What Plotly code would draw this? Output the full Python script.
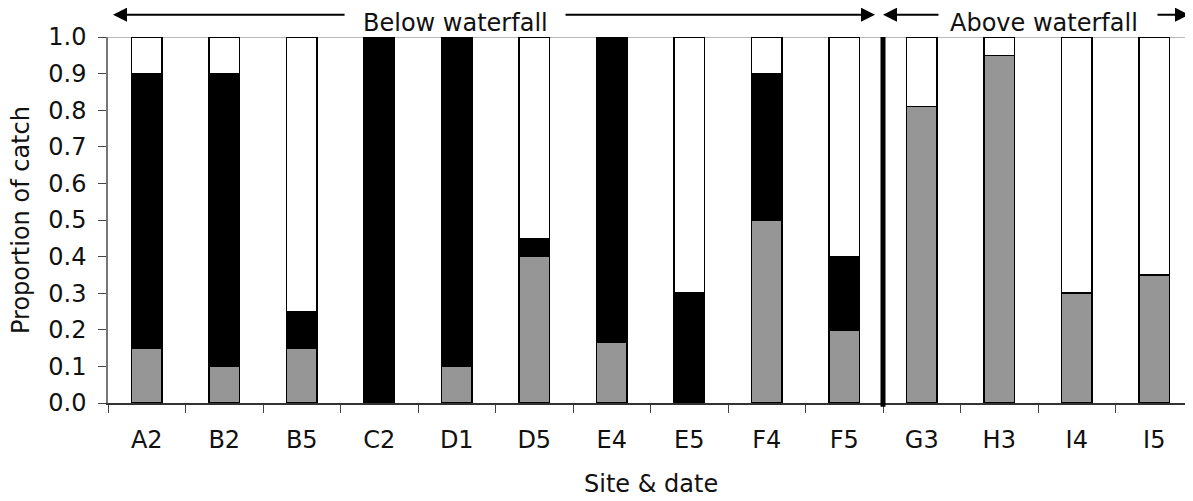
import plotly.graph_objects as go

sites = ["A2", "B2", "B5", "C2", "D1", "D5", "E4", "E5", "F4", "F5", "G3", "H3", "I4", "I5"]
grey_vals = [0.15, 0.10, 0.15, 0.00, 0.10, 0.40, 0.165, 0.00, 0.50, 0.20, 0.81, 0.95, 0.30, 0.35]
black_vals = [0.75, 0.80, 0.10, 1.00, 0.90, 0.05, 0.835, 0.30, 0.40, 0.20, 0.00, 0.00, 0.00, 0.00]
white_vals = [0.10, 0.10, 0.75, 0.00, 0.00, 0.55, 0.00, 0.70, 0.10, 0.60, 0.19, 0.05, 0.70, 0.65]
y_ticks = [0.0, 0.1, 0.2, 0.3, 0.4, 0.5, 0.6, 0.7, 0.8, 0.9, 1.0]

FONT = "DejaVu Sans"
BW = 0.39

fig = go.Figure()
fig.add_trace(go.Bar(x=sites, y=grey_vals, marker=dict(color="#969696", line=dict(color="#000", width=1.5)), width=BW))
fig.add_trace(go.Bar(x=sites, y=black_vals, marker=dict(color="#000000", line=dict(color="#000", width=1.5)), width=BW))
fig.add_trace(go.Bar(x=sites, y=white_vals, marker=dict(color="#ffffff", line=dict(color="#000", width=1.5)), width=BW))

fig.update_layout(
    barmode="stack",
    width=1185, height=493,
    margin=dict(l=100, r=0, t=29, b=98, autoexpand=False),
    plot_bgcolor="white", paper_bgcolor="white",
    showlegend=False,
    font=dict(family=FONT, size=24, color="#111"),
)
fig.update_xaxes(
    type="category", automargin=False,
    tickson="boundaries", ticks="outside", ticklen=8, tickcolor="#444", tickwidth=1,
    showline=True, linecolor="#333", linewidth=1.5,
    showgrid=False,
    ticklabelstandoff=14,
    tickfont=dict(size=24),
)
fig.update_yaxes(
    range=[0, 1], automargin=False,
    tickvals=y_ticks, tickformat=".1f",
    ticks="outside", ticklen=8, tickcolor="#444", tickwidth=1,
    showline=True, linecolor="#777", linewidth=1.5,
    showgrid=False, zeroline=False,
    ticklabelstandoff=7,
    tickfont=dict(size=24),
)

# axis titles
fig.add_annotation(xref="paper", yref="paper", x=0.5, y=-0.2213, text="Site & date",
                   showarrow=False, xanchor="center", yanchor="middle", font=dict(size=24, color="#111"))
fig.add_annotation(xref="paper", yref="paper", x=-87 / 1085, y=0.5, text="Proportion of catch",
                   showarrow=False, xanchor="center", yanchor="middle", textangle=-90,
                   font=dict(size=24, color="#111"))

# top line at 1.0
fig.add_shape(type="line", xref="paper", yref="y", x0=0, x1=1, y0=1, y1=1,
              line=dict(color="#a0a0a0", width=1.5), layer="below")
# thick separator between below/above waterfall sites
fig.add_shape(type="line", xref="x", yref="y domain", x0=9.5, x1=9.5, y0=-0.01, y1=1,
              line=dict(color="#000", width=5))

ay = 1.061
arrows = [(0.0046, 0.2194), (0.7069, 0.4203), (0.7143, 0.7668), (0.9963, 0.9659)]
for tip, tail in arrows:
    fig.add_annotation(xref="x domain", yref="y domain", x=tip, y=ay,
                       axref="x domain", ayref="y domain", ax=tail, ay=ay,
                       text="", showarrow=True, arrowhead=2, arrowsize=1.4,
                       arrowwidth=2, arrowcolor="#000", standoff=0, startstandoff=0)
for label, xc in [("Below waterfall", 0.3207), ("Above waterfall", 0.8631)]:
    fig.add_annotation(xref="x domain", yref="y domain", x=xc, y=1.0396, text=label,
                       showarrow=False, borderpad=0, font=dict(size=24, color="#111"),
                       xanchor="center", yanchor="middle")

fig.write_html("out.html")
